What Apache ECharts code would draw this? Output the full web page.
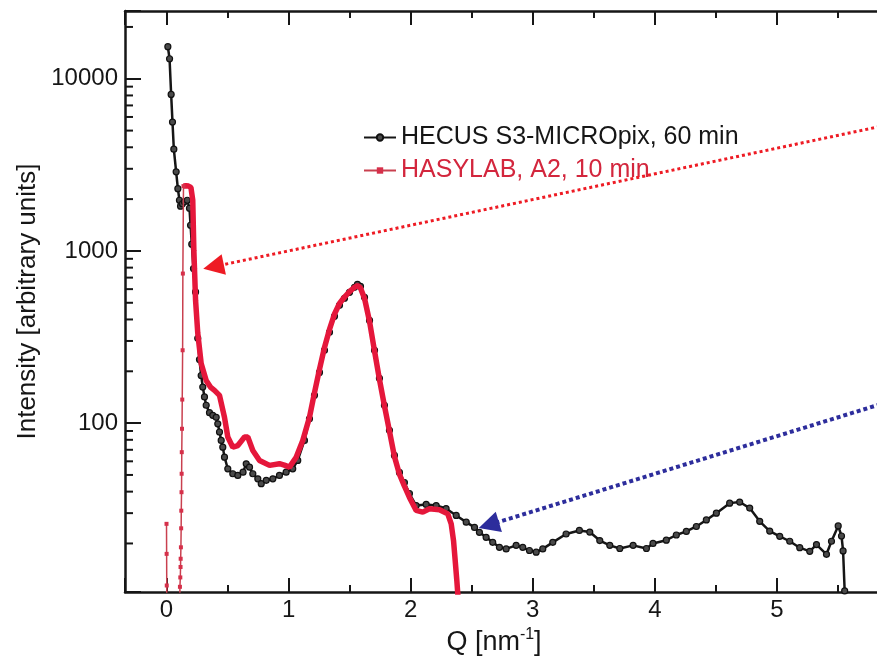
<!DOCTYPE html>
<html>
<head>
<meta charset="utf-8">
<title>SAXS comparison</title>
<script src="https://cdn.jsdelivr.net/npm/echarts@6/dist/echarts.min.js"></script>
<style>
  html, body { margin: 0; padding: 0; background: #fff; }
  #chart { width: 877px; height: 661px; }
</style>
</head>
<body>
<div id="chart"></div>
<script>
// HECUS S3-MICROpix, 60 min  [Q (nm^-1), intensity]
const hecus = [
  [0.011, 15350], [0.025, 13070], [0.038, 8110], [0.049, 5600], [0.060, 3900],
  [0.079, 2880], [0.093, 2300], [0.106, 1970], [0.115, 1820], [0.130, 1880],
  [0.147, 1930], [0.170, 1970], [0.188, 1770], [0.197, 1410], [0.207, 1094],
  [0.221, 790], [0.238, 578], [0.256, 311], [0.270, 234], [0.284, 189],
  [0.297, 162], [0.311, 142], [0.325, 127], [0.352, 115], [0.379, 111],
  [0.407, 108], [0.420, 99], [0.434, 88.8], [0.448, 79.3], [0.461, 72.5],
  [0.475, 63.4], [0.502, 54.3], [0.543, 50.8], [0.584, 49.7], [0.627, 51.9],
  [0.653, 58.0], [0.680, 55.5], [0.707, 50.8], [0.748, 47.5], [0.776, 44.5],
  [0.817, 46.5], [0.871, 47.5], [0.925, 49.7], [0.980, 51.9], [1.034, 54.3],
  [1.075, 60.7], [1.130, 79.3], [1.171, 106], [1.212, 145], [1.253, 197],
  [1.294, 265], [1.335, 337], [1.376, 417], [1.417, 483], [1.458, 531],
  [1.499, 575], [1.540, 615], [1.564, 640], [1.589, 623], [1.622, 538],
  [1.663, 395], [1.704, 265], [1.744, 182], [1.785, 127], [1.826, 90.8],
  [1.867, 64.9], [1.908, 51.7], [1.949, 45.2], [1.990, 39.0], [2.045, 33.2],
  [2.127, 33.7], [2.209, 33.2], [2.290, 31.9], [2.373, 29.1], [2.455, 26.6],
  [2.523, 24.8], [2.563, 23.2], [2.618, 21.7], [2.672, 20.3], [2.727, 19.0],
  [2.782, 18.6], [2.864, 19.5], [2.918, 19.0], [2.973, 18.2], [3.028, 17.8],
  [3.082, 18.6], [3.164, 20.3], [3.273, 22.7], [3.382, 23.8], [3.467, 23.3],
  [3.549, 20.8], [3.631, 19.5], [3.713, 18.7], [3.822, 19.5], [3.931, 18.7],
  [3.985, 20.0], [4.094, 20.9], [4.176, 22.4], [4.258, 23.5], [4.340, 25.1],
  [4.422, 27.4], [4.504, 30.0], [4.613, 34.3], [4.695, 34.8], [4.777, 32.1],
  [4.859, 26.9], [4.941, 23.6], [5.023, 22.0], [5.105, 20.6], [5.187, 18.9],
  [5.269, 18.0], [5.324, 19.7], [5.406, 17.3], [5.447, 20.6], [5.502, 25.3],
  [5.529, 22.1], [5.542, 18.1], [5.555, 10.6]
];

// HASYLAB, A2, 10 min : thin part near the beam stop
const hasylabRise = [
  [0.000, 26], [0.001, 17.4], [0.002, 11.4], [0.004, 3], [0.100, 3],
  [0.110, 11.2], [0.113, 12.7], [0.115, 14.6], [0.116, 16.3], [0.118, 19.0],
  [0.120, 24.5], [0.121, 31], [0.123, 39.7], [0.124, 50.8], [0.125, 67.8],
  [0.127, 92.7], [0.129, 137], [0.132, 265], [0.134, 739], [0.139, 2380]
];

// HASYLAB, A2, 10 min : main curve
const hasylabMain = [
  [0.139, 2380], [0.150, 2350], [0.160, 2390], [0.170, 2360], [0.180, 2380],
  [0.190, 2350], [0.200, 2340], [0.210, 2300], [0.215, 1970], [0.224, 1010],
  [0.238, 517], [0.256, 333], [0.284, 222], [0.325, 177], [0.360, 162],
  [0.393, 155], [0.434, 145], [0.475, 108], [0.502, 83], [0.543, 72.5],
  [0.584, 74.1], [0.615, 79], [0.639, 83], [0.666, 83], [0.707, 69.4],
  [0.762, 60.7], [0.844, 56.8], [0.925, 58.1], [0.965, 57], [1.007, 55.5],
  [1.062, 63.4], [1.116, 79.3], [1.171, 108], [1.212, 150], [1.253, 205],
  [1.294, 275], [1.335, 350], [1.376, 430], [1.417, 495], [1.458, 540],
  [1.499, 580], [1.540, 615], [1.564, 630], [1.589, 610], [1.622, 530],
  [1.663, 390], [1.704, 262], [1.744, 180], [1.785, 126], [1.826, 90],
  [1.867, 64], [1.908, 50.5], [1.949, 43], [1.990, 37], [2.045, 31.1],
  [2.099, 30.4], [2.154, 31.8], [2.236, 31.4], [2.304, 29.7], [2.332, 26.0],
  [2.351, 20.8], [2.367, 15.2], [2.378, 12.2], [2.386, 10.2], [2.392, 8]
];

// arrows: [tip, tail]
const redArrow = [[0.385, 810], [6.0, 5570]];
const blueArrow = [[2.64, 25.6], [6.0, 139]];

const yTickLabels = [100, 1000, 10000];
const yMinorTicks = [20, 30, 40, 50, 60, 70, 80, 90,
  200, 300, 400, 500, 600, 700, 800, 900,
  2000, 3000, 4000, 5000, 6000, 7000, 8000, 9000, 20000];

const X_MIN = -0.34, X_MAX = 6.0;
const Y_MIN = 10.45, Y_MAX = 24750;
const FONT = 'Liberation Sans, Arial, Helvetica, sans-serif';
const INK = '#161616';

const chart = echarts.init(document.getElementById('chart'));

const xCommon = {
  type: 'value',
  min: X_MIN,
  max: X_MAX,
  splitLine: { show: false },
  axisLine: { show: true, onZero: false, lineStyle: { color: INK, width: 2.5 } },
  axisTick: { show: true, inside: true, length: 14, lineStyle: { color: INK, width: 2 } },
  minorTick: { show: true, splitNumber: 2, length: 7, lineStyle: { color: INK, width: 2 } }
};

const option = {
  animation: false,
  backgroundColor: '#fff',
  grid: { left: 125, top: 11, bottom: 69, right: -22, containLabel: false, outerBoundsMode: 'none' },
  legend: {
    orient: 'vertical',
    left: 358,
    top: 120,
    itemWidth: 32,
    itemHeight: 8,
    itemGap: 8,
    selectedMode: false,
    textStyle: { fontSize: 25, fontFamily: FONT, color: INK },
    data: [
      { name: 'HECUS S3-MICROpix, 60 min', textStyle: { color: INK } },
      { name: 'HASYLAB, A2, 10 min', textStyle: { color: '#d3263d' } }
    ]
  },
  xAxis: [
    Object.assign({}, xCommon, {
      position: 'bottom',
      name: 'Q [nm{sup|-1}]',
      nameLocation: 'middle',
      nameGap: 26,
      nameTextStyle: {
        fontSize: 27, fontFamily: FONT, color: INK, padding: [0, 36, 0, 0],
        rich: { sup: { fontSize: 16, fontFamily: FONT, color: INK, padding: [0, 0, 15, 0] } }
      },
      axisLabel: {
        fontSize: 24, fontFamily: FONT, color: INK, margin: 6,
        showMinLabel: false, showMaxLabel: false
      }
    }),
    Object.assign({}, xCommon, {
      position: 'top',
      axisLabel: { show: false }
    })
  ],
  yAxis: {
    type: 'log',
    logBase: 10,
    min: Y_MIN,
    max: Y_MAX,
    name: 'Intensity [arbitrary units]',
    nameLocation: 'middle',
    nameGap: 82,
    nameTextStyle: { fontSize: 26, fontFamily: FONT, color: INK },
    splitLine: { show: false },
    axisLine: { show: true, onZero: false, lineStyle: { color: INK, width: 2.5 } },
    axisTick: { show: true, inside: true, length: 16, lineStyle: { color: INK, width: 2 } },
    axisLabel: {
      fontSize: 24, fontFamily: FONT, color: INK, margin: 7,
      formatter: function (v) {
        const r = Math.round(v);
        return yTickLabels.indexOf(r) >= 0 ? String(r) : '';
      }
    }
  },
  series: [
    {
      // minor ticks of the log axis (2..9 per decade)
      type: 'custom',
      silent: true,
      clip: false,
      z: 5,
      encode: { x: 0, y: 1 },
      data: yMinorTicks.map(v => [X_MIN, v]),
      renderItem: function (params, api) {
        const p = api.coord([api.value(0), api.value(1)]);
        return {
          type: 'line',
          shape: { x1: p[0], y1: p[1], x2: p[0] + 8, y2: p[1] },
          style: { stroke: INK, lineWidth: 2 }
        };
      }
    },
    {
      name: 'HECUS S3-MICROpix, 60 min',
      type: 'line',
      data: hecus,
      z: 3,
      symbol: 'circle',
      symbolSize: 6,
      showAllSymbol: true,
      lineStyle: { color: INK, width: 2.5 },
      itemStyle: { color: '#4a4a4a', borderColor: '#111', borderWidth: 1.2 },
      markLine: {
        silent: true,
        animation: false,
        symbol: ['triangle', 'none'],
        symbolSize: 21,
        label: { show: false },
        emphasis: { disabled: true },
        data: [
          [
            { coord: redArrow[0], lineStyle: { color: '#ee1b24', type: [3, 3], width: 3 }, itemStyle: { color: '#ee1b24' } },
            { coord: redArrow[1] }
          ],
          [
            { coord: blueArrow[0], lineStyle: { color: '#2d2d9c', type: [4, 3], width: 4 }, itemStyle: { color: '#2d2d9c' } },
            { coord: blueArrow[1] }
          ]
        ]
      }
    },
    {
      name: 'HASYLAB, A2, 10 min',
      type: 'line',
      data: hasylabRise,
      z: 4,
      symbol: 'rect',
      symbolSize: 4,
      showAllSymbol: true,
      lineStyle: { color: '#c9404f', width: 1.5 },
      itemStyle: { color: '#d6304a' }
    },
    {
      name: 'HASYLAB, A2, 10 min',
      type: 'line',
      data: hasylabMain,
      z: 4,
      showSymbol: false,
      lineStyle: { color: '#e5173b', width: 5.5 }
    }
  ]
};

chart.setOption(option);
</script>
</body>
</html>
